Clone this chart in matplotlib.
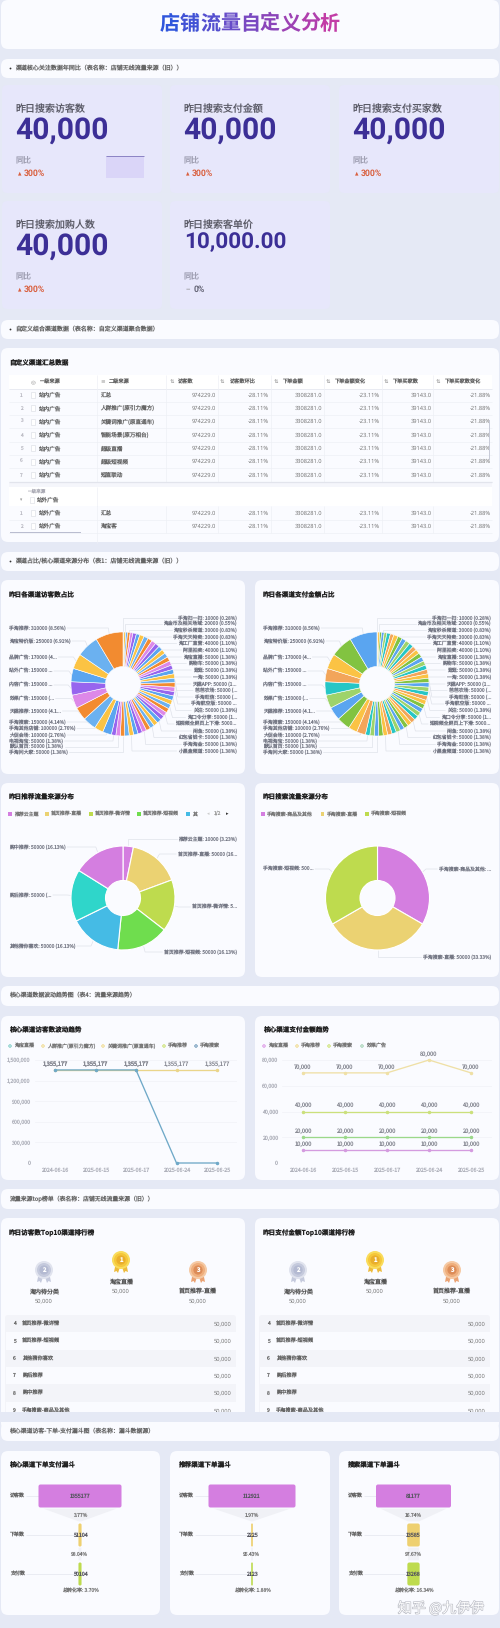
import matplotlib
matplotlib.use("Agg")
import matplotlib.pyplot as plt
from matplotlib.patches import FancyBboxPatch, Rectangle, Circle, Polygon
import matplotlib.patheffects as pe
import numpy as np

plt.rcParams['font.family'] = ['Noto Sans CJK SC', 'DejaVu Sans']
plt.rcParams['text.hinting'] = 'no_hinting'
plt.rcParams['text.hinting_factor'] = 8

# ---------------- data ----------------
page_title = "店铺流量自定义分析"
sections = ["渠道核心关注数据年同比（表名称：店铺无线流量来源（旧））",
            "自定义组合渠道数据（表名称：自定义渠道聚合数据）",
            "渠道占比/核心渠道来源分布（表1：店铺无线流量来源（旧））",
            "核心渠道数据波动趋势图（表4：流量来源趋势）",
            "流量来源top榜单（表名称：店铺无线流量来源（旧））",
            "核心渠道访客-下单-支付漏斗图（表名称：漏斗数据源）"]

kpi_names = ["昨日搜索访客数", "昨日搜索支付金额", "昨日搜索支付买家数", "昨日搜索加购人数", "昨日搜索客单价"]
kpi_values = ["40,000", "40,000", "40,000", "40,000", "10,000.00"]
kpi_yoy = ["300%", "300%", "300%", "300%", "0%"]

table_title = "自定义渠道汇总数据"
table_headers = ["一级来源", "二级来源", "访客数", "访客数环比", "下单金额", "下单金额变化", "下单买家数", "下单买家数变化"]
table_sub = ["汇总", "人群推广(原引力魔方)", "关键词推广(原直通车)", "智能场景(原万相台)", "超级直播", "超级短视频", "短直联动"]
table_sub2 = ["汇总", "淘宝客"]
table_row = ["974229.0", "-28.11%", "3308281.0", "-23.11%", "39143.0", "-21.88%"]

pie_values = [10000, 20000, 21000, 30000, 30000, 40000, 40000,
              50000, 50000, 50000, 50000, 50000, 50000, 50000, 50000,
              50000, 50000, 50000, 50000, 50000, 50000, 50000, 50000,
              50000, 50000, 50000, 50000, 50000, 50000, 50000, 50000,
              50000, 50000, 50000, 50000, 50000, 50000, 50000, 50000,
              50000, 50000, 50000,
              100000, 100000, 150000, 150000, 150000, 150000, 150000,
              170000, 250000, 310000]
right_labels = ["手淘扫一扫: 10000 (0.28%)", "淘金币及相关场域: 20000 (0.55%)", "淘宝秒杀频道: 30000 (0.83%)",
                "手淘天天特卖: 30000 (0.83%)", "淘工厂直营: 40000 (1.10%)", "阿里拍卖: 40000 (1.10%)",
                "淘宝直播: 50000 (1.38%)", "购物车: 50000 (1.38%)", "逛逛: 50000 (1.38%)", "一淘: 50000 (1.38%)",
                "天猫APP: 50000 (1...", "芭芭农场: 50000 (...", "手淘旺信: 50000 (...", "手淘航空版: 50000 ...",
                "关注: 50000 (1.38%)", "淘口令分享: 50000 (1...", "短视频全屏页上下滑: 5000...", "闲鱼: 50000 (1.38%)",
                "红包省钱卡: 50000 (1.38%)", "手淘淘金: 50000 (1.38%)", "小黑盒频道: 50000 (1.38%)"]
right_slice_idx = [0, 1, 3, 4, 5, 6, 8, 10, 12, 14, 16, 18, 20, 22, 24, 26, 28, 30, 32, 34, 37]
left_labels = ["手淘推荐: 310000 (8.56%)", "淘宝特价版: 250000 (6.91%)", "品牌广告: 170000 (4...", "站外广告: 150000 ...",
               "内容广告: 150000 ...", "效果广告: 150000 (...", "天猫推荐: 150000 (4.1...", "手淘搜索: 150000 (4.14%)",
               "手淘其他店铺: 100000 (2.76%)", "大促会场: 100000 (2.76%)", "电视淘宝: 50000 (1.38%)",
               "默认首页: 50000 (1.38%)", "手淘问大家: 50000 (1.38%)"]
left_slice_idx = [51, 50, 49, 48, 47, 46, 45, 44, 43, 42, 41, 40, 39]

rec_names = ["推荐云主题", "首页推荐-直播", "首页推荐-微详情", "首页推荐-短视频", "其他猜你喜欢", "购后推荐", "购中推荐"]
rec_values = [10000, 50000, 50000, 50000, 50000, 50000, 50000]
rec_labels = ["推荐云主题: 10000 (3.23%)", "首页推荐-直播: 50000 (16...", "首页推荐-微详情: 5...", "首页推荐-短视频: 50000 (16.13%)",
              "其他猜你喜欢: 50000 (16.13%)", "购后推荐: 50000 (...", "购中推荐: 50000 (16.13%)"]
sea_names = ["手淘搜索-商品及其他", "手淘搜索-直播", "手淘搜索-短视频"]
sea_values = [50000, 50000, 50000]
sea_labels = ["手淘搜索-商品及其他: ...", "手淘搜索-直播: 50000 (33.33%)", "手淘搜索-短视频: 500..."]

dates = ["2024-06-16", "2025-06-15", "2025-06-17", "2025-06-24", "2025-06-25"]
visit_legend = ["淘宝直播", "人群推广(原引力魔方)", "关键词推广(原直通车)", "手淘推荐", "手淘搜索"]
visit_recommend = [1355177, 1355177, 1355177, 1355177, 1355177]
visit_search = [1355177, 1355177, 1355177, 0, 0]
pay_legend = ["淘宝直播", "手淘推荐", "手淘搜索", "效果广告"]
pay_live = [10000, 10000, 10000, 10000, 10000]
pay_recommend = [70000, 70000, 70000, 80000, 70000]
pay_search = [40000, 40000, 40000, 40000, 40000]
pay_effect = [20000, 20000, 20000, 20000, 20000]

rank_top3 = ["淘宝直播", "海内待分类", "首页推荐-直播"]
rank_top3_val = ["50,000", "50,000", "50,000"]
rank_rest = ["首页推荐-微详情", "首页推荐-短视频", "其他猜你喜欢", "购后推荐", "购中推荐", "手淘搜索-商品及其他"]
rank_rest_val = ["50,000", "50,000", "50,000", "50,000", "50,000", "50,000"]

funnel_titles = ["核心渠道下单支付漏斗", "推荐渠道下单漏斗", "搜索渠道下单漏斗"]
funnel_stages = ["访客数", "下单数", "支付数"]
funnel_values = [[1355177, 51104, 50104], [112921, 2225, 2123], [81177, 13585, 13268]]
funnel_conv = [["3.77%", "98.04%"], ["1.97%", "95.43%"], ["16.74%", "97.67%"]]
funnel_total = ["总转化率: 3.70%", "总转化率: 1.88%", "总转化率: 16.34%"]

# ---------------- style ----------------
W, H = 500, 1628
BG = "#E5E9F5"; CARD = "#FAFBFF"; KPI = "#E7E7FB"
LILAC = "#D47EE0"; YEL = "#EBD272"; LIME = "#BEDB4E"; GREEN = "#6FDD4E"; SKY = "#45BBE5"; TEAL = "#2FD6CA"
cyc1 = ["#F28B30", "#6BB1F0", "#FBC344", "#5AA5F0", "#9765EE", "#DD88E8"]
cyc2 = ["#5AA5F0", "#82C341", "#FBC344", "#F2A55A", "#26C6C6", "#9ED36A"]
LEAD = "#DDE0E8"; TXT = "#757885"

fig = plt.figure(figsize=(W / 100, H / 100), dpi=100, facecolor=BG)
m = fig.add_axes([0, 0, 1, 1], zorder=0)
m.set_xlim(0, W); m.set_ylim(H, 0); m.axis("off")


def axes_px(x0, y0, x1, y1, z=1):
    a = fig.add_axes([x0 / W, 1 - y1 / H, (x1 - x0) / W, (y1 - y0) / H], zorder=z)
    a.patch.set_alpha(0)
    return a


def card(x0, y0, x1, y1, c=CARD, r=7, z=1):
    m.add_patch(FancyBboxPatch((x0 + r, y0 + r), x1 - x0 - 2 * r, y1 - y0 - 2 * r,
                               boxstyle=f"round,pad={r},rounding_size={r}", fc=c, ec="none", zorder=z))


def T(x, y, s, px=6, c="#555", ha="left", va="center", w="normal", z=3, fam=None, **kw):
    if fam is not None:
        kw["family"] = fam
    return m.text(x, y, s, fontsize=px * 0.72, color=c, ha=ha, va=va, fontweight=w, zorder=z, **kw)


def rect(x0, y0, x1, y1, c, z=2):
    m.add_patch(Rectangle((x0, y0), x1 - x0, y1 - y0, fc=c, ec="none", zorder=z))


def hline(x0, x1, y, c="#EEF0F5", lw=0.5, z=2):
    m.plot([x0, x1], [y, y], color=c, lw=lw, zorder=z, solid_capstyle="butt")


def vline(x, y0, y1, c="#EEF0F5", lw=0.5, z=2):
    m.plot([x, x], [y0, y1], color=c, lw=lw, zorder=z, solid_capstyle="butt")


def section(y0, y1, s, bullet):
    card(1, y0, 499, y1, r=7)
    yc = (y0 + y1) / 2
    if bullet:
        m.add_patch(Circle((10.5, yc), 0.9, fc="#333", ec="none", zorder=3))
        T(15, yc, s, 6, "#666")
    else:
        T(9, yc, s, 5.9, "#666")


# ---- title ----
card(1, 0, 499, 49)
c0 = np.array(matplotlib.colors.to_rgb("#2F55DC")); c1 = np.array(matplotlib.colors.to_rgb("#C23CA6"))
for i, ch in enumerate(page_title):
    f = i / (len(page_title) - 1)
    T(160 + 20 * i + 10, 23, ch, 20, tuple(c0 + (c1 - c0) * f), ha="center", w="bold")

section(59, 78, sections[0], True)
section(320, 339, sections[1], True)
section(552, 571, sections[2], True)
section(986, 1006, sections[3], False)
section(1189, 1209, sections[4], False)
section(1422, 1441, sections[5], False)

# ---- KPI ----
kx = [2, 170, 339]; ky = [85, 201]
for i, (n, v, y) in enumerate(zip(kpi_names, kpi_values, kpi_yoy)):
    col, row = i % 3, i // 3
    x0, y0 = kx[col], ky[row]
    card(x0, y0, x0 + 160, y0 + 108, KPI, r=5)
    tx = x0 + 13
    T(tx + 0.5, y0 + 24, n, 10, "#5A5A66")
    if len(v) > 6:
        T(tx + 1, y0 + 41.5, v, 22.5, "#3C2F96", w="bold", fam=["Roboto"])
    else:
        T(tx, y0 + 45, v, 30, "#3C2F96", w="bold", fam=["Roboto"])
    T(tx + 0.5, y0 + 76, "同比", 8, "#9D9DB0")
    if y != "0%":
        T(tx + 4.5, y0 + 88, "▲", 4.5, "#D9603F", ha="center", fam=["DejaVu Sans"])
        T(tx + 8.5, y0 + 88, y, 8.7, "#D9603F", w="bold", fam=["Roboto"])
    else:
        T(tx + 5, y0 + 88, "－", 4.5, "#888888", ha="center")
        T(tx + 11, y0 + 88, y, 8.7, "#666677", w="bold", fam=["Roboto"])
rect(106, 155.5, 144, 178, "#DAD5F8", z=2)
hline(106, 144, 155.7, c="#8B83C4", lw=0.7, z=3)

# ---- table ----
card(1, 348, 499, 542)
T(9, 362, table_title, 6.6, "#222", w="bold")
rect(9, 375, 492, 389, "#FFFFFF", z=2)
hline(9, 492, 389, "#E9EBF2", 0.7)
vcols = [97, 166, 218, 271, 324, 382, 433]
for xv in vcols:
    vline(xv, 375, 482)
vline(97, 482, 543)
for xv in vcols[1:]:
    vline(xv, 506, 533)
hx = [40, 109, 178, 230, 283, 335, 393, 445]
ix = [33.5, 102.5, 172, 222, 275.5, 328, 386, 437.5]
for i, (x, ic, s) in enumerate(zip(hx, ix, table_headers)):
    T(x, 382, s, 5.2, "#666")
    T(ic, 382, "◎" if i == 0 else ("≡" if i == 1 else "⇅"), 5.5, "#888", ha="center", fam=["DejaVu Sans"])
right_x = [216, 269, 322, 380, 432, 491]
row_y = [395, 408.3, 421.7, 435, 448.3, 461.7, 475]
for k, (y, sub) in enumerate(zip(row_y, table_sub)):
    T(21, y, str(k + 1), 4.8, "#BBBBC4", ha="center")
    m.add_patch(Rectangle((31, y - 3), 4.2, 6, fc="#FFFFFF", ec="#D8DAE2", lw=0.4, zorder=3))
    T(38.5, y, "站内广告", 5.6, "#666")
    T(100, y, sub, 5.6, "#666")
    for xr, val in zip(right_x, table_row):
        T(xr, y, val, 5.7, "#777", ha="right", fam=["Noto Sans"])
    hline(9, 492, y + 6.7)
rect(9, 482, 492, 486.5, "#F5F6FB", z=2)
hline(9, 492, 482, "#E2E4EC", 0.9)
rect(9, 486.5, 492, 506, "#FFFFFF", z=2)
vline(97, 486.5, 506)
T(28, 491, "一级来源", 4.6, "#AAAAB4")
T(21, 500, "▾", 4.5, "#999", ha="center", fam=["DejaVu Sans"])
m.add_patch(Rectangle((29.5, 497), 4.2, 6, fc="#FFFFFF", ec="#D8DAE2", lw=0.4, zorder=3))
T(37, 500, "站外广告", 5.6, "#666")
for k, (y, sub) in enumerate(zip([513, 526], table_sub2)):
    T(21, y, str(k + 1), 4.8, "#BBBBC4", ha="center")
    m.add_patch(Rectangle((31, y - 3), 4.2, 6, fc="#FFFFFF", ec="#D8DAE2", lw=0.4, zorder=3))
    T(38.5, y, "站外广告", 5.6, "#666")
    T(100, y, sub, 5.6, "#666")
    for xr, val in zip(right_x, table_row):
        T(xr, y, val, 5.7, "#777", ha="right", fam=["Noto Sans"])
    hline(9, 492, y + 6.7)
rect(10, 531.5, 81, 533, "#BABDD0", z=4)
rect(488.5, 420, 490, 460, "#C8CBD8", z=4)


# ---- pies ----
def pie_angles(vals):
    v = np.asarray(vals, float)
    return np.deg2rad(90 - 360 * (np.cumsum(v) - v / 2) / v.sum())


def draw_pie(cx, cy, R, r, vals, cols, lw):
    a = axes_px(cx - R - 1, cy - R - 1, cx + R + 1, cy + R + 1, z=2)
    a.pie(vals, startangle=90, counterclock=False, radius=1, colors=cols,
          wedgeprops=dict(width=1 - r / R, edgecolor="#FFFFFF", linewidth=lw))
    a.set_xlim(-(R + 1) / R, (R + 1) / R); a.set_ylim(-(R + 1) / R, (R + 1) / R)
    a.axis("off")


rend = fig.canvas.get_renderer()


def label_lead(cx, cy, R, ang, s, x_text, y_text, ha, px=4.9, kick=3):
    t = T(x_text, y_text, s, px, TXT, ha=ha)
    bb = t.get_window_extent(rend)
    edge = (bb.x0 - 1.5) if ha == "right" else (bb.x1 + 1.5)
    p0 = (cx + R * np.cos(ang), cy - R * np.sin(ang))
    px1 = cx + (R + kick) * np.cos(ang) if abs(np.cos(ang)) > 0.15 else p0[0]
    m.plot([p0[0], px1, edge], [p0[1], y_text, y_text], color=LEAD, lw=0.45, zorder=1.5)


N = len(pie_values)
ry = [618, 623.5, 630, 637, 643.5, 650, 657, 663.5, 670, 677, 684, 690.5, 697, 704, 710.5, 717.5, 724, 731, 737.5, 744.5, 751]
ly = [628, 641, 657, 671, 685, 698.5, 711, 722, 728.5, 735, 741, 746.5, 752]
ang = pie_angles(pie_values)
for cx, cyc, xl, xr in [(123, cyc1, 9, 237), (377, cyc2, 263, 491)]:
    cols = [cyc[(N - 1 - i) % 6] for i in range(N)]
    draw_pie(cx, 684, 52, 17.5, pie_values, cols, 0.4)
for dx, title, cx in [(0, "昨日各渠道访客数占比", 123), (254, "昨日各渠道支付金额占比", 377)]:
    card(1 + dx, 580, 245 + dx, 774)
    T(9 + dx, 594, title, 6.6, "#222", w="bold")
    for s, idx, y in zip(right_labels, right_slice_idx, ry):
        label_lead(cx, 684, 52, ang[idx], s, 237 + dx, y, "right")
    for s, idx, y in zip(left_labels, left_slice_idx, ly):
        label_lead(cx, 684, 52, ang[idx], s, 9 + dx, y, "left")

# rec pie
card(1, 783, 245, 977)
T(9, 797, "昨日推荐流量来源分布", 6.6, "#222", w="bold")
rec_cols = [LILAC, YEL, LIME, GREEN, SKY, TEAL, LILAC]
draw_pie(123, 898, 52, 17.5, rec_values, rec_cols, 0.8)
ar = pie_angles(rec_values)
for s, a_, x, y, ha in zip(rec_labels, ar, [237, 237, 237, 237, 9, 9, 9], [839, 854, 907, 952, 946, 895, 847],
                           ["right", "right", "right", "right", "left", "left", "left"]):
    label_lead(123, 898, 52, a_, s, x, y, ha, kick=4)
for x_, s, c in zip([10, 47, 91, 139], rec_names, rec_cols):
    rect(x_ - 1.6, 812.4, x_ + 1.6, 815.6, c, z=3)
    T(x_ + 4, 814, s, 4.9, "#777")
rect(186.4, 812.4, 189.6, 815.6, SKY, z=3)
T(192, 814, "其", 4.9, "#777")
T(208.5, 814, "◂", 5, "#CCCCCC", ha="center", fam=["DejaVu Sans"])
T(217.5, 814, "1/2", 4.9, "#999", ha="center")
T(227, 814, "▸", 5, "#333", ha="center", fam=["DejaVu Sans"])

# search pie
card(255, 783, 499, 977)
T(263, 797, "昨日搜索流量来源分布", 6.6, "#222", w="bold")
sea_cols = [LILAC, YEL, LIME]
draw_pie(377.5, 898, 52, 17.5, sea_values, sea_cols, 0.8)
a4 = pie_angles(sea_values)
for s, a_, x, y, ha in zip(sea_labels, a4, [491, 491, 263], [869, 957, 869], ["right", "right", "left"]):
    label_lead(377.5, 898, 52, a_, s, x, y, ha, kick=4)
for x_, s, c in zip([263, 322.5, 367], sea_names, sea_cols):
    rect(x_ - 1.6, 812.4, x_ + 1.6, 815.6, c, z=3)
    T(x_ + 4, 814, s, 4.9, "#777")

# ---- line charts ----
card(1, 1016, 245, 1180)
card(255, 1016, 499, 1180)
T(9, 1029, "核心渠道访客数波动趋势", 6.6, "#222", w="bold")
T(263, 1029, "核心渠道支付金额趋势", 6.6, "#222", w="bold")


def line_axes(x0, x1, ytop, ticks, series, lab_off):
    a = axes_px(x0, 1060, x1, 1163, z=2)
    a.set_xlim(-0.5, 4.5); a.set_ylim(0, ytop)
    a.set_yticks(ticks); a.set_yticklabels([f"{t:,}" for t in ticks])
    a.set_xticks(range(5)); a.set_xticklabels(dates)
    a.tick_params(length=0, labelsize=5.3 * 0.72, labelcolor="#B0B2BC", pad=3)
    for sp in a.spines.values():
        sp.set_visible(False)
    a.grid(axis="y", color="#F1F2F7", lw=0.5)
    a.set_axisbelow(True)
    for vals, c in series:
        a.plot(range(5), vals, color=c, lw=0.95, marker="o", ms=1.5, mec=c, mfc=c, clip_on=False)
        for i, v in enumerate(vals):
            if v > 0:
                a.annotate(f"{v:,}", (i, v), xytext=(0, lab_off), textcoords="offset points",
                           ha="center", va="center", fontsize=5.7 * 0.72, color="#888A94", annotation_clip=False)
    return a


line_axes(34.75, 237.25, 1500000, [0, 300000, 600000, 900000, 1200000, 1500000],
          [(visit_recommend, "#EAD58A"), (visit_search, "#6FA9C8")], 4.3)
line_axes(282, 492, 80000, [0, 20000, 40000, 60000, 80000],
          [(pay_recommend, "#EFE0A6"), (pay_search, "#CBE07C"), (pay_effect, "#9BD88A"), (pay_live, "#D49BDF")], 4.3)
for x_, s, c in zip([10, 43, 103, 164, 196], visit_legend, ["#5FC0B8", YEL, YEL, LIME, "#4A7FA8"]):
    m.add_patch(Circle((x_, 1046), 1.2, fc="#FFFFFF", ec=c, lw=0.6, zorder=3))
    T(x_ + 4, 1046, s, 5, "#777")
for x_, s, c in zip([264, 297, 329, 362], pay_legend, [LILAC, YEL, LIME, "#8AC6A0"]):
    m.add_patch(Circle((x_, 1046), 1.2, fc="#FFFFFF", ec=c, lw=0.6, zorder=3))
    T(x_ + 4, 1046, s, 5, "#777")


# ---- ranks ----
def medal(cx, cy, rim, face, inner, rib, n):
    m.add_patch(Polygon([(cx - 6, cy + 7), (cx - 1, cy + 7), (cx - 3, cy + 13), (cx - 4.5, cy + 11), (cx - 7, cy + 12)], fc=rib, ec="none", zorder=2.5))
    m.add_patch(Polygon([(cx + 6, cy + 7), (cx + 1, cy + 7), (cx + 3, cy + 13), (cx + 4.5, cy + 11), (cx + 7, cy + 12)], fc=rib, ec="none", zorder=2.5))
    m.add_patch(Circle((cx, cy), 9, fc=rim, ec="none", zorder=2.6))
    m.add_patch(Circle((cx, cy), 7, fc=face, ec="none", zorder=2.7))
    m.add_patch(Circle((cx, cy), 4.6, fc=inner, ec="none", zorder=2.8))
    T(cx, cy, n, 6, "#FFFFFF", ha="center", w="bold")


for dx, title in [(0, "昨日访客数Top10渠道排行榜"), (254, "昨日支付金额Top10渠道排行榜")]:
    card(1 + dx, 1218, 245 + dx, 1430)
    T(9 + dx, 1232, title, 6.6, "#222", w="bold")
    medal(44 + dx, 1270, "#E0E3EE", "#C5CADD", "#B4BAD2", "#C5CADD", "2")
    medal(121 + dx, 1260, "#F9DC5C", "#F5C73A", "#E9AE2C", "#EDBB3C", "1")
    medal(198 + dx, 1270, "#F5C9A4", "#EFAE7C", "#DC8C58", "#EAA273", "3")
    for (x_, y_), n, v in zip([(121, 1282), (44, 1292), (198, 1292)], rank_top3, rank_top3_val):
        T(x_ + dx, y_, n, 6, "#555", ha="center")
        T(x_ + dx, y_ + 8.7, v, 5.7, "#777", ha="center", fam=["Noto Sans"])
    card(5 + dx, 1315, 236 + dx, 1420, "#F3F4F9", r=3, z=1.5)
    ys = [1323.7, 1341, 1358.4, 1375.7, 1393, 1410.4]
    for k, (y_, n, v) in enumerate(zip(ys, rank_rest, rank_rest_val)):
        if k % 2 == 1:
            rect(5.5 + dx, y_ - 8.67, 236 + dx, y_ + 8.67, "#FAFBFF", z=1.7)
        T(14.7 + dx, y_, str(k + 4), 5, "#666", ha="center")
        T(22.3 + dx, y_, n, 5.2, "#666")
        T(231 + dx, y_, v, 5.7, "#777", ha="right", fam=["Noto Sans"])
rect(0, 1412, 500, 1422, BG, z=4)

# ---- funnels ----
fx = [(1, 160), (170, 330), (339, 499)]
fc_x = [80, 252, 413.5]
fw = [83, 87, 75]
for j in range(3):
    x0, x1 = fx[j]
    card(x0, 1451, x1, 1615)
    T(x0 + 8, 1464, funnel_titles[j], 6.6, "#222", w="bold")
    vals = funnel_values[j]
    vmax = vals[0]
    a = axes_px(fc_x[j] - fw[j] / 2, 1480, fc_x[j] + fw[j] / 2, 1595, z=2)
    a.set_xlim(-vmax / 2, vmax / 2)
    a.set_ylim((1595 - 1496) / 39, (1480 - 1496) / 39)
    a.axis("off")
    xpx = vmax / fw[j]
    bar_h = 23 / 39
    for k, (v, c) in enumerate(zip(vals, [LILAC, "#EED070", LIME])):
        wpx = max(v / xpx, 1.5)
        rnd = min(2, wpx * 0.45) * xpx
        a.add_patch(FancyBboxPatch((-v / 2, k - bar_h / 2), v, bar_h,
                                   boxstyle=f"round,pad=0,rounding_size={rnd}", fc=c, ec="none",
                                   mutation_aspect=(1 / 39) / xpx, clip_on=False, zorder=3))
    top = bar_h / 2 + 0.03
    a.add_patch(Polygon([(-vals[0] * 0.44, top), (vals[0] * 0.44, top), (vals[1] * 0.45, 0.65), (-vals[1] * 0.45, 0.65)],
                        fc="#F0F1F6", ec="none", zorder=1))
    a.add_patch(Polygon([(-vals[1] * 0.44, 1 + top), (vals[1] * 0.44, 1 + top), (vals[2] * 0.45, 1.65), (-vals[2] * 0.45, 1.65)],
                        fc="#F0F1F6", ec="none", zorder=1))
    for k, (st, v, yy) in enumerate(zip(funnel_stages, vals, [1496, 1535, 1574])):
        T(x0 + 9, yy, st, 5, "#666")
        hline(x0 + 25, fc_x[j] - v / xpx / 2, yy, "#E4E6EE", 0.5, z=1.5)
        fig.text(fc_x[j] / W, 1 - yy / H, str(v), fontsize=5.3 * 0.72, color="#55555F", ha="center", va="center", zorder=9)
    for yy, s in zip([1515, 1554, 1590.5], funnel_conv[j] + [funnel_total[j]]):
        fig.text(fc_x[j] / W, 1 - yy / H, s, fontsize=5 * 0.72, color="#777777", ha="center", va="center", zorder=9)

# watermark
wm = fig.text(441 / W, 1 - 1608.5 / H, "知乎 @九伊伊", fontsize=14 * 0.72, color="#FFFFFF", ha="center", va="center", zorder=10)
wm.set_path_effects([pe.withStroke(linewidth=0.9, foreground="#B9BBC4")])

fig.savefig("out.png", dpi=100, facecolor=BG)
